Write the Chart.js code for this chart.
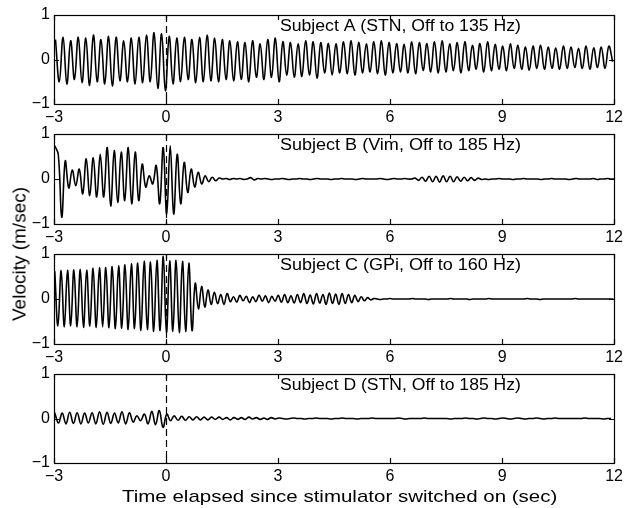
<!DOCTYPE html>
<html>
<head>
<meta charset="utf-8">
<script src="https://cdn.jsdelivr.net/npm/chart.js@4.4.1/dist/chart.umd.min.js"></script>
<style>
  html, body { margin: 0; padding: 0; background: #fff; }
  #fig { position: relative; width: 627px; height: 508px; overflow: hidden; font-family: "Liberation Sans", Arial, sans-serif; }
  #fig canvas { position: absolute; left: 0; }
  .lbl { position: absolute; white-space: nowrap; color: #000; line-height: 17px; }
</style>
</head>
<body>
<div id="fig">
  <canvas id="pA" width="627" height="126" style="top:0px"></canvas>
  <canvas id="pB" width="627" height="127" style="top:119px"></canvas>
  <canvas id="pC" width="627" height="127" style="top:239px"></canvas>
  <canvas id="pD" width="627" height="126" style="top:359px"></canvas>
  <div id="xlab" class="lbl" style="left:122px; top:488px; font-size:17px;">Time elapsed since stimulator switched on (sec)</div>
  <div id="ylab" class="lbl" style="left:20px; top:254px; font-size:18px;">Velocity (m/sec)</div>
</div>
<script>
// tick labels
const xTicks = [-3, 0, 3, 6, 9, 12];
const yTicks = [-1, 0, 1];

// velocity traces, sampled at successive peaks / troughs (start time + sample step in sec)
const aTitle = 'Subject A (STN, Off to 135 Hz)';
const aStart = -2.96, aStep = 0.1015;
const aVel = [
  0.45,-0.5, 0.5,-0.55, 0.42,-0.45, 0.5,-0.52, 0.48,-0.58, 0.55,-0.5, 0.45,-0.55, 0.52,-0.6, 0.5,-0.48, 0.42,-0.5,
  0.48,-0.55, 0.5,-0.52, 0.55,-0.5, 0.6,-0.65, 0.58,-0.7, 0.52,-0.55, 0.48,-0.5, 0.5,-0.45, 0.45,-0.52, 0.5,-0.5,
  0.55,-0.48, 0.48,-0.5, 0.45,-0.45, 0.42,-0.48, 0.4,-0.45, 0.38,-0.5, 0.42,-0.4, 0.35,-0.45, 0.45,-0.4, 0.48,-0.5,
  0.4,-0.35, 0.38,-0.4, 0.35,-0.38, 0.42,-0.35, 0.4,-0.42, 0.38,-0.3, 0.36,-0.35, 0.35,-0.3, 0.4,-0.32, 0.42,-0.35,
  0.38,-0.3, 0.35,-0.28, 0.4,-0.32, 0.42,-0.35, 0.38,-0.3, 0.36,-0.28, 0.34,-0.3, 0.4,-0.32, 0.38,-0.25, 0.36,-0.28,
  0.4,-0.3, 0.42,-0.28, 0.35,-0.25, 0.38,-0.3, 0.4,-0.25, 0.32,-0.22, 0.36,-0.28, 0.4,-0.25, 0.34,-0.22, 0.3,-0.25,
  0.35,-0.2, 0.32,-0.22, 0.28,-0.24, 0.3,-0.2, 0.32,-0.22, 0.28,-0.2, 0.26,-0.22, 0.3,-0.2, 0.28,-0.18, 0.25,-0.2,
  0.3,-0.22, 0.26,-0.18, 0.28,-0.2, 0.3,-0.05
];

const bTitle = 'Subject B (Vim, Off to 185 Hz)';
const bStart = -2.98, bStep = 0.0937;
const bVel = [
  0.74, 0.55, -0.85, 0.4, -0.2, 0.2, -0.15, 0.22, -0.33, 0.45,
  -0.37, 0.47, -0.4, 0.55, -0.4, 0.7, -0.6, 0.63, -0.52, 0.6,
  -0.48, 0.7, -0.55, 0.6, -0.48, 0.33, -0.18, 0.07, -0.11, 0.3,
  -0.55, 0.7, -0.78, 0.74, -0.78, 0.55, -0.55, 0.37, -0.3, 0.22,
  -0.18, 0.15, -0.11, 0.07, -0.06, 0.04, -0.04, 0.02, 0,
  0.01, -0.01, 0.01, 0, 0.01, -0.01, 0,
  0.03, -0.02, 0.01,
  0, 0.01, 0, -0.01, 0, 0, 0.01, 0, -0.01, 0,
  0, 0.01, 0, 0, -0.01, 0, 0.01, 0, 0, 0,
  -0.01, 0, 0, 0.01, 0, 0, 0, -0.01, 0, 0.01,
  0, 0, 0, 0, 0.01, 0, -0.01, 0, 0.01, 0,
  0, 0.01, 0, 0,
  0.02, -0.03, 0.04, -0.05, 0.06, -0.06, 0.06, -0.07, 0.07, -0.06,
  0.06, -0.06, 0.05, -0.05, 0.04, -0.04, 0.03, -0.03, 0.02, -0.01,
  0, -0.01, 0, 0, 0.01, 0, 0, 0, -0.01, 0,
  0, 0.01, 0, 0, 0, 0, -0.01, 0, 0, 0.01,
  0, 0, 0, 0, -0.01, 0, 0.01, 0, 0, 0,
  0, 0.01, -0.01, 0, 0, 0.01, 0, 0
];

const cTitle = 'Subject C (GPi, Off to 160 Hz)';
const cStart = -2.98, cStep = 0.0855;
const cVel = [
  0.62,-0.6, 0.63,-0.62, 0.64,-0.6, 0.65,-0.62, 0.66,-0.63, 0.64,-0.6, 0.68,-0.63, 0.7,-0.62, 0.7,-0.64, 0.72,-0.66,
  0.74,-0.65, 0.76,-0.68, 0.78,-0.66, 0.8,-0.7, 0.84,-0.68, 0.82,-0.72, 0.86,-0.7, 0.95,-0.74, 0.85,-0.72, 0.86,-0.75,
  0.84,-0.72, 0.8,-0.7,
  0.35,-0.22, 0.28,-0.18, 0.2,-0.12, 0.15,-0.1, 0.1,-0.12, 0.12,-0.06,
  0.05,-0.07, 0.08,-0.04, 0.06,-0.08, 0.05,-0.06, 0.09,-0.05, 0.07,-0.08, 0.06,-0.05, 0.08,-0.07, 0.1,-0.08, 0.07,-0.09,
  0.1,-0.08, 0.12,-0.1, 0.09,-0.11, 0.12,-0.09, 0.1,-0.12, 0.13,-0.1, 0.11,-0.12, 0.12,-0.1, 0.1,-0.08, 0.08,-0.06,
  0.05,-0.04, 0.03,-0.02,
  0.01, 0, -0.01, 0, 0, 0.01, 0, 0, 0, 0,
  0, 0, 0.01, 0, 0, 0, 0, -0.01, 0, 0,
  0, 0, 0, 0, 0.01, 0, 0, 0, 0, 0,
  -0.01, 0, 0, 0, 0, 0, 0.01, 0, 0, 0,
  0, 0, 0, 0, 0, 0, 0, 0, 0.01, 0,
  0, 0, -0.01, 0, 0, 0, 0, 0, 0, 0,
  0, 0, 0, 0.01, 0, 0, 0, 0, 0, 0,
  0, 0, 0, 0, 0, 0
];

const dTitle = 'Subject D (STN, Off to 185 Hz)';
const dStart = -2.98, dStep = 0.1;
const dVel = [
  0.13,-0.1, 0.12,-0.12, 0.14,-0.11, 0.13,-0.12, 0.12,-0.1, 0.13,-0.12, 0.15,-0.13, 0.14,-0.11, 0.12,-0.1, 0.15,-0.12,
  0.13,-0.08, 0.06,-0.05, 0.1,-0.12, 0.16,-0.14, 0.18,-0.2,
  0.1,-0.05, 0.06,-0.04, 0.05,-0.04, 0.04,-0.03, 0.04,-0.03, 0.03,-0.03, 0.03,-0.02, 0.03,-0.02, 0.02,-0.03, 0.02,-0.02,
  0.02,-0.02, 0.03,-0.01, 0.02,-0.02, 0.01,-0.02, 0.02,-0.01,
  0.01, 0, -0.01, 0, 0.01, 0, 0, -0.01, 0, 0,
  0.01, 0, 0, 0, -0.01, 0, 0, 0.01, 0, 0,
  0, -0.01, 0, 0, 0, 0.01, 0, 0, 0, 0,
  0, 0, 0.01, 0, -0.01, 0, 0, 0, 0, 0.01,
  0, 0, 0, 0, 0, 0, -0.01, 0, 0, 0,
  0.01, 0, 0, -0.01, 0, 0.01, 0, 0, -0.01, 0,
  0.01, 0, -0.01, 0, 0.01, 0, -0.01, 0, 0, 0.01,
  0, -0.01, 0, 0, 0.01, 0, 0, 0, 0, 0,
  0, 0, 0.01, 0, 0, 0, 0, -0.01, 0, 0
];

const FONT = '"Liberation Sans", Arial, sans-serif';
Chart.defaults.font.family = FONT;
Chart.defaults.font.size = 16;
Chart.defaults.color = '#000';

const fmt = v => String(v).replace('-', '\u2212');

// box, inner ticks, dashed onset line and panel title (matlab look)
const panelDeco = {
  id: 'panelDeco',
  beforeDatasetsDraw(chart) {
    const { ctx, chartArea: a, scales: { x } } = chart;
    const px = Math.round(x.getPixelForValue(0)) + 0.5;
    ctx.save();
    ctx.strokeStyle = '#000';
    ctx.lineWidth = 1.2;
    ctx.setLineDash([7, 4]);
    ctx.beginPath();
    ctx.moveTo(px, a.top);
    ctx.lineTo(px, a.bottom);
    ctx.stroke();
    ctx.restore();
  },
  afterDatasetsDraw(chart, args, opts) {
    const { ctx, chartArea: a, scales: { x, y } } = chart;
    ctx.save();
    ctx.strokeStyle = '#000';
    ctx.lineWidth = 1.2;
    ctx.strokeRect(Math.round(a.left) + 0.5, Math.round(a.top) + 0.5,
                   Math.round(a.right - a.left), Math.round(a.bottom - a.top));
    ctx.beginPath();
    xTicks.forEach(v => {
      const px = Math.round(x.getPixelForValue(v)) + 0.5;
      ctx.moveTo(px, a.top); ctx.lineTo(px, a.top + 5);
      ctx.moveTo(px, a.bottom); ctx.lineTo(px, a.bottom - 5);
    });
    yTicks.forEach(v => {
      const py = Math.round(y.getPixelForValue(v)) + 0.5;
      ctx.moveTo(a.left, py); ctx.lineTo(a.left + 5, py);
      ctx.moveTo(a.right, py); ctx.lineTo(a.right - 5, py);
    });
    ctx.stroke();

    // title, stretched to the width it has in the scan
    ctx.font = '16px ' + FONT;
    ctx.fillStyle = '#000';
    ctx.textBaseline = 'alphabetic';
    const w = ctx.measureText(opts.title).width;
    ctx.translate(x.getPixelForValue(3.05), a.top + 15.5);
    ctx.scale(241 / w, 1);
    ctx.fillText(opts.title, 0, 0);
    ctx.restore();
  }
};

function makePanel(id, title, start, step, vel) {
  const pts = vel.map((v, i) => ({ x: start + i * step, y: v }));
  return new Chart(document.getElementById(id), {
    type: 'line',
    data: {
      datasets: [{
        data: pts,
        borderColor: '#000',
        borderWidth: 1.6,
        pointRadius: 0,
        tension: 0.4,
        fill: false
      }]
    },
    options: {
      responsive: false,
      animation: false,
      devicePixelRatio: 1,
      layout: { padding: { top: 15, right: 10, left: 0, bottom: 0 } },
      plugins: {
        legend: { display: false },
        tooltip: { enabled: false },
        panelDeco: { title: title }
      },
      scales: {
        x: {
          type: 'linear',
          min: -3, max: 12,
          grid: { display: false, drawTicks: false },
          border: { display: false },
          afterBuildTicks: s => { s.ticks = xTicks.map(v => ({ value: v })); },
          afterFit: s => { s.height = 22; },
          ticks: { padding: 4, maxRotation: 0, autoSkip: false, callback: fmt }
        },
        y: {
          min: -1, max: 1,
          grid: { display: false, drawTicks: false },
          border: { display: false },
          afterBuildTicks: s => { s.ticks = yTicks.map(v => ({ value: v })); },
          afterFit: s => { s.width = 54; },
          ticks: { padding: 4, callback: fmt }
        }
      }
    },
    plugins: [panelDeco]
  });
}

makePanel('pA', aTitle, aStart, aStep, aVel);
makePanel('pB', bTitle, bStart, bStep, bVel);
makePanel('pC', cTitle, cStart, cStep, cVel);
makePanel('pD', dTitle, dStart, dStep, dVel);

// axis labels: stretch to the extents they have in the scan
const xl = document.getElementById('xlab');
xl.style.transformOrigin = '0 0';
xl.style.transform = 'scaleX(' + (435 / xl.offsetWidth) + ')';
const yl = document.getElementById('ylab');
yl.style.transform = 'translate(-50%, -50%) rotate(-90deg) scaleX(' + (134 / yl.offsetWidth) + ')';
</script>
</body>
</html>
